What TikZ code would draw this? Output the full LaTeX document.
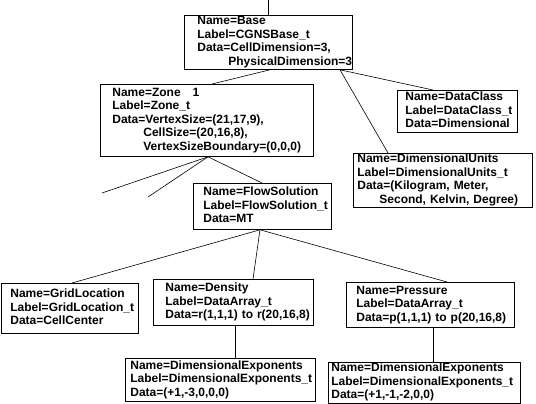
\documentclass[tikz,border=0pt]{standalone}
\usepackage{fontspec}
\setmainfont{Liberation Sans}
\newcommand{\rows}[1]{\begin{tabular}{@{}l@{}}#1\end{tabular}}
\tikzset{
  cell/.style={draw, anchor=north west, inner ysep=0pt, line width=0.8pt,
    font=\fontsize{12}{13.5}\selectfont\bfseries},
  link/.style={line width=0.6pt}
}
\begin{document}
\begin{tikzpicture}[x=1pt,y=-1pt]
\useasboundingbox(0,0)rectangle(536,404);
% boxes
\node[cell,text width=142,inner xsep=13,minimum height=54](base)at(184,15){\rows{Name=Base\\Label=CGNSBase\_t\\Data=CellDimension=3,\\\hspace*{31pt}PhysicalDimension=3}};
\node[cell,text width=189,inner xsep=12,minimum height=72](zone)at(100,84){\rows{Name=Zone~~~1\\Label=Zone\_t\\Data=VertexSize=(21,17,9),\\\hspace*{31pt}CellSize=(20,16,8),\\\hspace*{31pt}VertexSizeBoundary=(0,0,0)}};
\node[cell,text width=104,inner xsep=8,minimum height=42](dclass)at(397,90){\rows{Name=DataClass\\Label=DataClass\_t\\Data=Dimensional}};
\node[cell,text width=171,inner xsep=4,minimum height=49](dunits)at(353,153){\rows{Name=DimensionalUnits\\Label=DimensionalUnits\_t\\Data=(Kilogram, Meter,\\\hspace*{22pt}Second, Kelvin, Degree)}};
\node[cell,text width=118,inner xsep=10,minimum height=46](flow)at(193,183){\rows{Name=FlowSolution\\Label=FlowSolution\_t\\Data=MT}};
\node[cell,text width=119,inner xsep=9,minimum height=50](grid)at(1,283){\rows{Name=GridLocation\\Label=GridLocation\_t\\Data=CellCenter}};
\node[cell,text width=136,inner xsep=12,minimum height=46](dens)at(153,279){\rows{Name=Density\\Label=DataArray\_t\\Data=r(1,1,1) to r(20,16,8)}};
\node[cell,text width=148,inner xsep=10,minimum height=45](pres)at(346,282){\rows{Name=Pressure\\Label=DataArray\_t\\Data=p(1,1,1) to p(20,16,8)}};
\node[cell,text width=180,inner xsep=5,minimum height=43](dexpa)at(125,358){\rows{Name=DimensionalExponents\\Label=DimensionalExponents\_t\\Data=(+1,-3,0,0,0)}};
\node[cell,text width=186,inner xsep=3,minimum height=40](dexpb)at(328,362){\rows{Name=DimensionalExponents\\Label=DimensionalExponents\_t\\Data=(+1,-1,-2,0,0)}};
% free ends
\coordinate(root)at(268,0);
\coordinate(zfreea)at(102,193);
\coordinate(zfreeb)at(148,197);
% links
\draw[link](root)--(root|-base.north);
\draw[link]([xshift=86]base.south west)--([xshift=112]zone.north west);
\draw[link]([xshift=156]base.south west)--([xshift=36]dclass.north west);
\draw[link]([xshift=156]base.south west)--([xshift=35]dunits.north west);
\draw[link]([xshift=108]zone.south west)--([xshift=69]flow.north west);
\draw[link]([xshift=108]zone.south west)--(zfreea);
\draw[link]([xshift=108]zone.south west)--(zfreeb);
\foreach \n/\s in {grid/71,dens/100,pres/101}
  \draw[link]([xshift=67]flow.south west)--([xshift=\s]\n.north west);
\draw[link]([xshift=82]dens.south west)--([xshift=110]dexpa.north west);
\draw[link]([xshift=87]pres.south west)--([xshift=105]dexpb.north west);
\end{tikzpicture}
\end{document}
